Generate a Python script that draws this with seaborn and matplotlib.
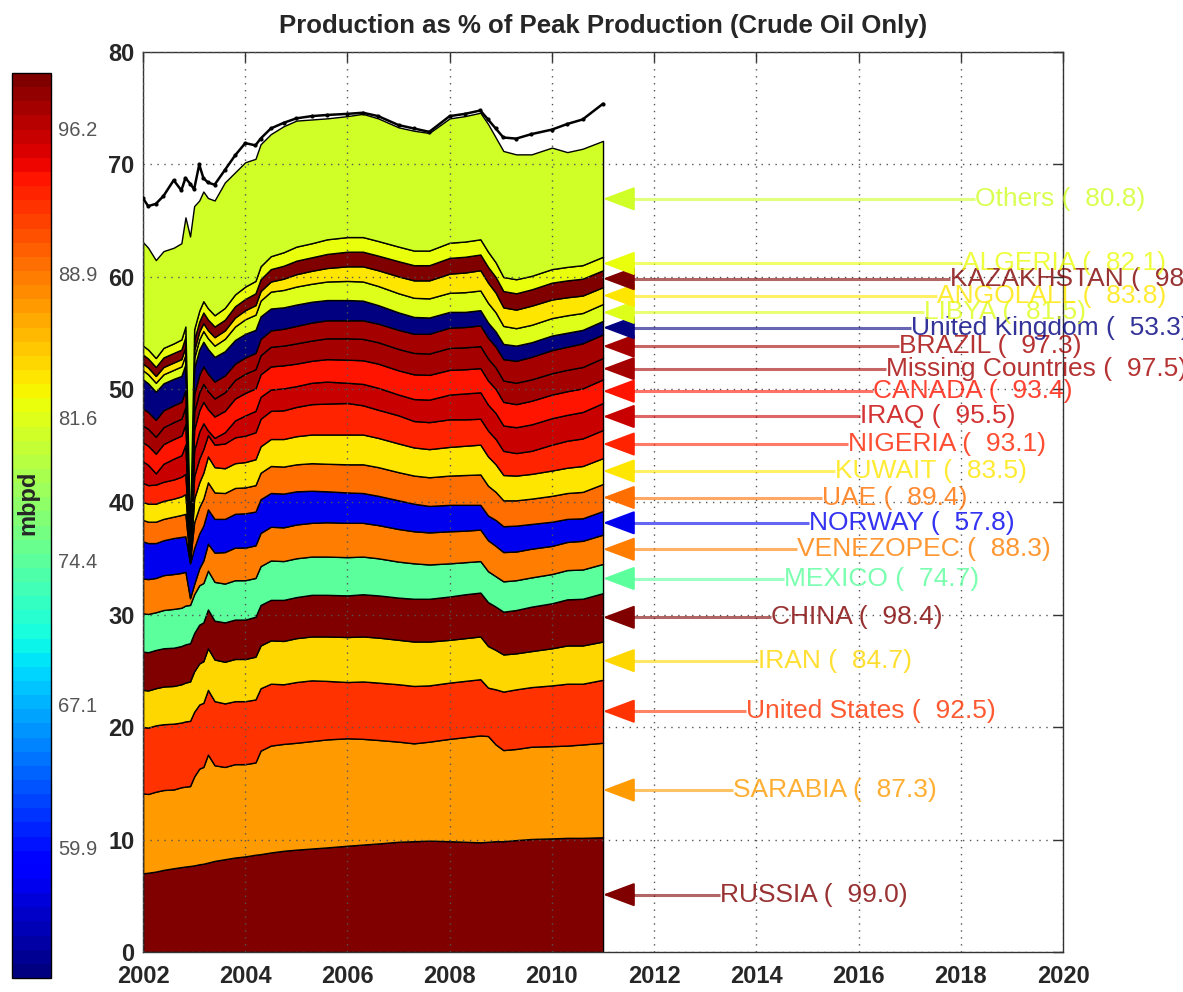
import numpy as np
import matplotlib
matplotlib.use("Agg")
import matplotlib.pyplot as plt
import matplotlib.colors as mcolors
import matplotlib.cm as cm
import seaborn as sns

# ---- time axis (decimal years) ----
years = [2002.0, 2002.1, 2002.25, 2002.4, 2002.6, 2002.75, 2002.83, 2002.92,
         2003.0, 2003.1, 2003.18, 2003.27, 2003.4, 2003.6, 2003.8,
         2004.0, 2004.2, 2004.3, 2004.5, 2004.75,
         2005.0, 2005.3, 2005.6,
         2006.0, 2006.3, 2006.6,
         2007.0, 2007.3, 2007.6,
         2008.0, 2008.3, 2008.6, 2008.75, 2008.9,
         2009.05, 2009.3, 2009.6,
         2010.0, 2010.3, 2010.6,
         2011.0]

# ---- crude production by producer, mbpd (stacked bottom to top) ----
russia = [7.0, 7.05, 7.15, 7.3, 7.45, 7.55, 7.6, 7.65,
          7.7, 7.8, 7.85, 7.95, 8.1, 8.25, 8.4,
          8.5, 8.65, 8.7, 8.85, 9.0,
          9.1, 9.2, 9.3,
          9.45, 9.55, 9.65,
          9.8, 9.85, 9.9,
          9.85, 9.8, 9.75, 9.8, 9.85,
          9.85, 9.95, 10.05,
          10.1, 10.15, 10.15,
          10.2]
sarabia = [7.1, 7.0, 7.1, 7.1, 7.0, 7.1, 7.1, 7.1,
           7.9, 8.5, 8.6, 9.6, 8.5, 8.2, 8.3,
           8.2, 8.2, 9.2, 9.5, 9.5,
           9.5, 9.55, 9.6,
           9.55, 9.4, 9.2,
           8.9, 8.7, 8.8,
           9.1, 9.3, 9.5, 9.4, 8.6,
           8.1, 8.1, 8.2,
           8.2, 8.2, 8.3,
           8.4]
united_states = [5.9, 5.9, 5.9, 5.85, 5.85, 5.75, 5.8, 5.8,
                 5.75, 5.7, 5.7, 5.75, 5.7, 5.65, 5.6,
                 5.6, 5.6, 5.55, 5.5, 5.3,
                 5.4, 5.4, 5.2,
                 5.0, 5.1, 5.1,
                 5.1, 5.1, 5.0,
                 5.0, 5.0, 5.0, 4.3, 4.9,
                 5.2, 5.3, 5.3,
                 5.4, 5.5, 5.4,
                 5.6]
iran = [3.3, 3.3, 3.3, 3.35, 3.35, 3.4, 3.45, 3.5,
        3.6, 3.65, 3.7, 3.7, 3.7, 3.7, 3.75,
        3.75, 3.8, 3.8, 3.85, 3.85,
        3.9, 3.9, 3.95,
        4.0, 4.0, 4.0,
        3.95, 3.95, 3.9,
        3.8, 3.8, 3.8, 3.7, 3.5,
        3.3, 3.2, 3.2,
        3.3, 3.4, 3.4,
        3.4]
china = [3.4, 3.4, 3.4, 3.4, 3.4, 3.4, 3.4, 3.4,
         3.4, 3.45, 3.45, 3.45, 3.45, 3.5, 3.5,
         3.5, 3.55, 3.6, 3.6, 3.65,
         3.65, 3.7, 3.7,
         3.7, 3.75, 3.75,
         3.75, 3.8, 3.8,
         3.85, 3.9, 3.9, 3.9, 3.85,
         3.8, 3.85, 3.95,
         4.0, 4.1, 4.15,
         4.3]
mexico = [3.4, 3.4, 3.35, 3.4, 3.45, 3.4, 3.45, 3.4,
          3.45, 3.5, 3.5, 3.45, 3.45, 3.45, 3.5,
          3.5, 3.45, 3.45, 3.5, 3.45,
          3.45, 3.4, 3.4,
          3.4, 3.35, 3.3,
          3.2, 3.15, 3.05,
          2.95, 2.85, 2.8, 2.75, 2.7,
          2.7, 2.65, 2.6,
          2.6, 2.6, 2.6,
          2.6]
venezopec = [3.1, 3.1, 3.05, 3.1, 3.1, 3.1, 3.0, 0.6,
             0.9, 1.5, 2.0, 2.4, 2.6, 2.8, 2.9,
             2.9, 2.9, 2.95, 3.0, 3.0,
             3.0, 3.0, 3.05,
             3.05, 3.0, 2.95,
             2.9, 2.85, 2.85,
             2.85, 2.8, 2.8, 2.75, 2.7,
             2.6, 2.55, 2.55,
             2.5, 2.5, 2.55,
             2.6]
norway = [3.3, 3.2, 3.1, 3.1, 3.2, 3.2, 3.15, 3.1,
          3.2, 3.1, 3.1, 3.05, 3.0, 2.95, 3.0,
          3.05, 3.0, 3.0, 3.0, 3.0,
          2.95, 2.85, 2.75,
          2.7, 2.65, 2.6,
          2.55, 2.45, 2.35,
          2.35, 2.3, 2.2, 2.2, 2.3,
          2.3, 2.3, 2.2,
          2.15, 2.05, 2.0,
          2.1]
uae = [1.9, 1.9, 1.9, 1.9, 1.9, 1.95, 2.0, 0.2,
       2.3, 2.35, 2.4, 2.4, 2.35, 2.3, 2.3,
       2.3, 2.35, 2.35, 2.4, 2.4,
       2.4, 2.45, 2.45,
       2.5, 2.55, 2.55,
       2.5, 2.5, 2.55,
       2.6, 2.65, 2.7, 2.65, 2.5,
       2.3, 2.25, 2.25,
       2.3, 2.3, 2.35,
       2.4]
kuwait = [1.6, 1.6, 1.6, 1.6, 1.6, 1.65, 1.75, 0.2,
          2.1, 2.2, 2.3, 2.3, 2.25, 2.2, 2.2,
          2.25, 2.3, 2.35, 2.4, 2.45,
          2.5, 2.55, 2.6,
          2.65, 2.65, 2.6,
          2.55, 2.5, 2.5,
          2.55, 2.6, 2.65, 2.6, 2.45,
          2.25, 2.2, 2.2,
          2.25, 2.25, 2.3,
          2.3]
nigeria = [1.7, 1.65, 1.7, 1.7, 1.7, 1.75, 1.8, 0.2,
           2.0, 2.1, 2.1, 1.9, 2.0, 2.2, 2.3,
           2.35, 2.4, 2.45, 2.5, 2.55,
           2.6, 2.7, 2.75,
           2.8, 2.6, 2.5,
           2.5, 2.35, 2.4,
           2.45, 2.35, 2.3, 2.3, 2.25,
           2.15, 2.0, 2.05,
           2.3, 2.4, 2.45,
           2.5]
iraq = [1.9, 1.8, 1.0, 1.6, 1.85, 1.9, 2.6, 0.2,
        2.3, 2.4, 2.3, 0.4, 0.6, 1.0, 1.5,
        1.8, 1.9, 1.95, 1.9, 1.95,
        1.85, 1.9, 1.95,
        1.8, 1.9, 1.95,
        1.85, 1.95, 2.0,
        2.2, 2.3, 2.35, 2.3, 2.3,
        2.25, 2.3, 2.35,
        2.35, 2.3, 2.35,
        2.4]
canada = [1.7, 1.7, 1.75, 1.75, 1.75, 1.75, 1.8, 0.2,
          1.85, 1.9, 1.9, 1.9, 1.9, 1.9, 1.95,
          2.0, 2.0, 2.0, 2.05, 2.05,
          2.0, 1.95, 2.0,
          2.05, 2.1, 2.15,
          2.15, 2.2, 2.2,
          2.2, 2.15, 2.15, 2.15, 2.15,
          2.1, 2.05, 2.1,
          2.1, 2.1, 2.1,
          2.1]
missing_countries = [1.5, 1.5, 1.5, 1.5, 1.5, 1.5, 1.55, 0.2,
                     1.6, 1.6, 1.6, 1.6, 1.6, 1.65, 1.65,
                     1.7, 1.7, 1.7, 1.75, 1.75,
                     1.8, 1.8, 1.85,
                     1.9, 1.9, 1.9,
                     1.9, 1.9, 1.9,
                     1.95, 1.95, 1.95, 1.95, 1.9,
                     1.9, 1.9, 1.9,
                     1.9, 1.9, 1.9,
                     1.9]
brazil = [1.5, 1.5, 1.5, 1.5, 1.5, 1.5, 1.5, 0.2,
          1.55, 1.55, 1.55, 1.55, 1.5, 1.5, 1.45,
          1.45, 1.45, 1.45, 1.45, 1.5,
          1.55, 1.6, 1.6,
          1.6, 1.65, 1.65,
          1.7, 1.7, 1.75,
          1.8, 1.8, 1.85, 1.85, 1.85,
          1.9, 1.95, 2.0,
          2.05, 2.05, 2.1,
          2.1]
united_kingdom = [2.6, 2.55, 2.5, 2.4, 2.35, 2.3, 2.3, 0.3,
                  2.3, 2.25, 2.2, 2.2, 2.2, 2.15, 2.1,
                  2.1, 2.05, 2.0, 1.95, 1.9,
                  1.9, 1.85, 1.8,
                  1.8, 1.75, 1.65,
                  1.55, 1.5, 1.45,
                  1.4, 1.35, 1.35, 1.35, 1.35,
                  1.35, 1.35, 1.3,
                  1.3, 1.25, 1.2,
                  1.2]
libya = [0.8, 0.8, 0.8, 0.8, 0.8, 0.85, 0.85, 0.2,
         0.9, 0.9, 0.95, 0.95, 1.0, 1.1, 1.2,
         1.3, 1.35, 1.4, 1.5, 1.55,
         1.6, 1.6, 1.65,
         1.7, 1.7, 1.7,
         1.7, 1.7, 1.7,
         1.7, 1.75, 1.75, 1.75, 1.7,
         1.6, 1.55, 1.55,
         1.55, 1.55, 1.5,
         1.5]
angola = [0.6, 0.6, 0.6, 0.65, 0.65, 0.65, 0.7, 0.2,
          0.7, 0.7, 0.7, 0.72, 0.75, 0.75, 0.8,
          0.8, 0.85, 0.85, 0.9, 1.0,
          1.1, 1.15, 1.2,
          1.3, 1.35, 1.4,
          1.5, 1.55, 1.6,
          1.7, 1.75, 1.8, 1.8, 1.75,
          1.65, 1.65, 1.7,
          1.65, 1.6, 1.55,
          1.5]
kazakhstan = [0.8, 0.8, 0.8, 0.85, 0.85, 0.85, 0.9, 0.2,
              0.9, 0.9, 0.95, 0.95, 0.95, 0.95, 1.0,
              1.0, 1.05, 1.05, 1.1, 1.15,
              1.2, 1.2, 1.25,
              1.3, 1.3, 1.3,
              1.35, 1.35, 1.35,
              1.4, 1.4, 1.4, 1.4, 1.4,
              1.45, 1.45, 1.45,
              1.5, 1.5, 1.5,
              1.5]
algeria = [0.8, 0.8, 0.8, 0.85, 0.85, 0.9, 0.9, 0.2,
           0.95, 0.95, 1.0, 1.0, 1.0, 1.05, 1.05,
           1.1, 1.1, 1.15, 1.15, 1.2,
           1.25, 1.25, 1.3,
           1.3, 1.3, 1.3,
           1.3, 1.3, 1.3,
           1.35, 1.35, 1.35, 1.35, 1.3,
           1.25, 1.25, 1.2,
           1.2, 1.2, 1.2,
           1.2]
others = [9.2, 9.05, 8.7, 8.6, 8.5, 8.55, 9.7, 26.55,
          10.95, 9.8, 9.75, 9.8, 10.2, 11.15, 10.85,
          11.05, 10.85, 10.85, 10.85, 11.2,
          11.2, 11.0, 10.75,
          10.75, 10.95, 10.9,
          10.6, 10.65, 10.45,
          11.05, 11.15, 11.25, 11.35, 11.1,
          11.2, 11.1, 10.8,
          10.8, 10.2, 10.35,
          10.3]

# world crude total from a second source (black line on top)
world_total = [67.0, 66.3, 66.5, 67.2, 68.6, 67.7, 68.8, 68.3,
               67.8, 70.0, 68.8, 68.4, 68.2, 69.5, 70.8,
               71.9, 71.7, 72.3, 73.2, 73.7,
               74.1, 74.3, 74.4,
               74.5, 74.6, 74.3,
               73.5, 73.2, 72.9,
               74.3, 74.5, 74.8, 74.0, 73.2,
               72.4, 72.3, 72.7,
               73.1, 73.6, 74.0,
               75.4]

countries = ["RUSSIA", "SARABIA", "United States", "IRAN", "CHINA", "MEXICO",
             "VENEZOPEC", "NORWAY", "UAE", "KUWAIT", "NIGERIA", "IRAQ",
             "CANADA", "Missing Countries", "BRAZIL", "United Kingdom",
             "LIBYA", "ANGOLALL", "KAZAKHSTAN", "ALGERIA", "Others"]
pct_of_peak = [99.0, 87.3, 92.5, 84.7, 98.4, 74.7, 88.3, 57.8, 89.4, 83.5,
               93.1, 95.5, 93.4, 97.5, 97.3, 53.3, 81.5, 83.8, 98.6, 82.1, 80.8]
series = [russia, sarabia, united_states, iran, china, mexico, venezopec,
          norway, uae, kuwait, nigeria, iraq, canada, missing_countries,
          brazil, united_kingdom, libya, angola, kazakhstan, algeria, others]

cbar_ticks = [59.9, 67.1, 74.4, 81.6, 88.9, 96.2]
x_ticks = list(range(2002, 2021, 2))
y_ticks = list(range(0, 81, 10))

# ---- style ----
sns.set_theme(style="white")
plt.rcParams["font.family"] = ["Liberation Sans", "DejaVu Sans"]

fig = plt.figure(figsize=(11.83, 9.92), dpi=100)
ax = fig.add_axes([0.1209, 0.0403, 0.7777, 0.9073])
cax = fig.add_axes([0.0101, 0.0141, 0.033, 0.9123])

cmap = plt.get_cmap("jet", 64)
norm = mcolors.Normalize(vmin=min(pct_of_peak), vmax=max(pct_of_peak))
colors = [cmap(norm(p)) for p in pct_of_peak]

# stacked areas
ax.stackplot(years, *series, colors=colors, edgecolor="black", linewidth=1.0, zorder=1)
sns.lineplot(x=years, y=world_total, ax=ax, color="black", linewidth=1.8,
             marker="o", markersize=3, markeredgewidth=0, zorder=3)

ax.set_xlim(2002, 2020)
ax.set_ylim(0, 80)
ax.set_xticks(x_ticks)
ax.set_yticks(y_ticks)
ax.set_axisbelow(False)
ax.grid(True, color="#555555", linestyle=(0, (1, 4)), linewidth=1.0)
ax.tick_params(direction="in", length=7, width=1, top=True, right=True,
               labelsize=17, color="#333333")
ax.tick_params(axis="x", pad=9)
ax.tick_params(axis="y", pad=6)
for lbl in ax.get_xticklabels() + ax.get_yticklabels():
    lbl.set_fontweight("bold")
for sp in ax.spines.values():
    sp.set_color("#333333")
    sp.set_linewidth(1.0)
ax.set_xlabel("")
ax.set_ylabel("")
ax.set_title("Production as % of Peak Production (Crude Oil Only)",
             fontsize=18.5, fontweight="bold", pad=14)

# labels with arrows pointing at the middle of each band at the last date
last = np.array([s[-1] for s in series])
tops = np.cumsum(last)
mids = tops - last / 2.0
x_end = years[-1]
label_x = np.linspace(2013.29, 2018.28, len(countries))
for name, p, c, ym, xl in zip(countries, pct_of_peak, colors, mids, label_x):
    ax.plot([x_end + 0.4, xl], [ym, ym], color=c, alpha=0.6, linewidth=2.2,
            solid_capstyle="butt", clip_on=False, zorder=4)
    ax.annotate("", xy=(x_end, ym), xytext=(x_end + 0.6, ym),
                arrowprops=dict(arrowstyle="-|>,head_length=2.0,head_width=0.75",
                                mutation_scale=10, fc=c, ec=c, lw=1.5,
                                shrinkA=0, shrinkB=0),
                zorder=5, annotation_clip=False)
    ax.text(xl, ym, f"{name} ( {p:5.1f})", color=c, alpha=0.8, fontsize=19,
            ha="left", va="center", zorder=6, clip_on=False)

# colour bar
sm = cm.ScalarMappable(norm=norm, cmap=cmap)
cb = fig.colorbar(sm, cax=cax, ticks=cbar_ticks)
cb.outline.set_edgecolor("black")
cb.outline.set_linewidth(1.0)
cax.yaxis.set_tick_params(which="both", direction="in", left=True, right=True,
                          labelleft=False, labelright=True, length=7, width=1,
                          color="black", labelsize=14.5, labelcolor="#555555", pad=5)
cax.set_yticklabels([f"{t:.1f}" for t in cbar_ticks])

fig.text(28 / 1183, 0.493, "mbpd", rotation=90, fontsize=17, fontweight="bold",
         ha="center", va="center")

fig.savefig("out.png", dpi=100)
